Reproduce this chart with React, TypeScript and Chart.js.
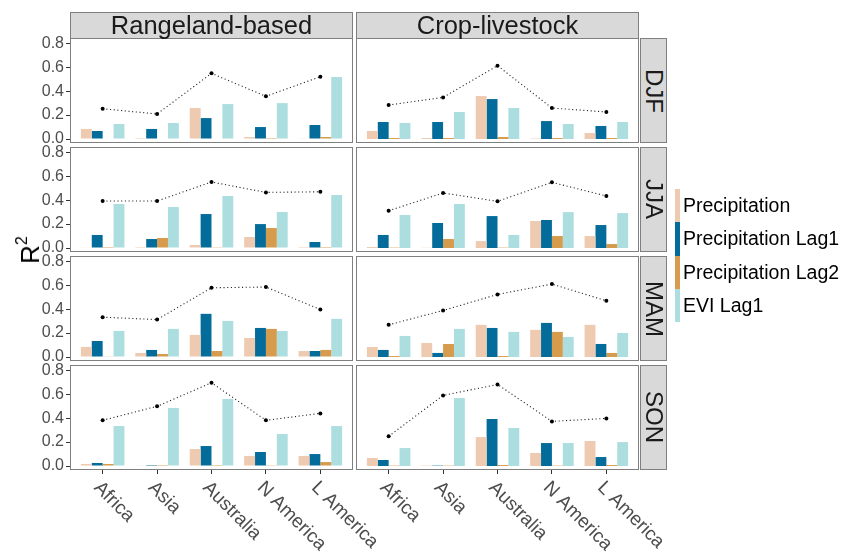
import React, { useEffect, useRef } from "react";
import { Chart, registerables } from "chart.js";

Chart.register(...registerables);

// ---------- data ----------
const regions = ["Africa", "Asia", "Australia", "N America", "L America"];
const systems = ["Rangeland-based", "Crop-livestock"];
const seasons = ["DJF", "JJA", "MAM", "SON"];
const seriesNames = ["Precipitation", "Precipitation Lag1", "Precipitation Lag2", "EVI Lag1"];
const seriesColors = ["#eecbb0", "#036c9a", "#d69b4c", "#acdddf"];
const yTicks = [0, 0.2, 0.4, 0.6, 0.8];

// Rangeland-based
const rlDJF_precip = [0.084, 0.008, 0.259, 0.017, 0.003];
const rlDJF_lag1 = [0.067, 0.084, 0.175, 0.1, 0.117];
const rlDJF_lag2 = [0.004, 0.004, 0.004, 0.008, 0.017];
const rlDJF_evi = [0.125, 0.134, 0.292, 0.3, 0.518];
const rlDJF_total = [0.253, 0.209, 0.549, 0.357, 0.521];

const rlJJA_precip = [0.003, 0.008, 0.025, 0.092, 0.008];
const rlJJA_lag1 = [0.109, 0.075, 0.284, 0.2, 0.05];
const rlJJA_lag2 = [0.008, 0.084, 0.002, 0.167, 0.008];
const rlJJA_evi = [0.368, 0.343, 0.435, 0.301, 0.443];
const rlJJA_total = [0.393, 0.393, 0.552, 0.465, 0.47];

const rlMAM_precip = [0.084, 0.034, 0.185, 0.159, 0.05];
const rlMAM_lag1 = [0.134, 0.059, 0.361, 0.243, 0.05];
const rlMAM_lag2 = [0.003, 0.025, 0.05, 0.235, 0.059];
const rlMAM_evi = [0.218, 0.235, 0.302, 0.218, 0.319];
const rlMAM_total = [0.333, 0.313, 0.579, 0.585, 0.397];

const rlSON_precip = [0.017, 0.003, 0.142, 0.084, 0.084];
const rlSON_lag1 = [0.025, 0.008, 0.167, 0.117, 0.1];
const rlSON_lag2 = [0.017, 0.008, 0.008, 0.002, 0.033];
const rlSON_evi = [0.334, 0.485, 0.56, 0.267, 0.334];
const rlSON_total = [0.382, 0.499, 0.696, 0.382, 0.44];

// Crop-livestock
const clDJF_precip = [0.067, 0.008, 0.359, 0.004, 0.05];
const clDJF_lag1 = [0.142, 0.142, 0.334, 0.15, 0.109];
const clDJF_lag2 = [0.008, 0.008, 0.017, 0.008, 0.008];
const clDJF_evi = [0.134, 0.226, 0.259, 0.125, 0.142];
const clDJF_total = [0.284, 0.348, 0.613, 0.259, 0.226];

const clJJA_precip = [0.008, 0.002, 0.058, 0.226, 0.1];
const clJJA_lag1 = [0.109, 0.209, 0.267, 0.234, 0.192];
const clJJA_lag2 = [0.003, 0.075, 0.003, 0.1, 0.033];
const clJJA_evi = [0.276, 0.368, 0.109, 0.3, 0.292];
const clJJA_total = [0.312, 0.46, 0.39, 0.549, 0.435];

const clMAM_precip = [0.084, 0.117, 0.269, 0.227, 0.269];
const clMAM_lag1 = [0.059, 0.034, 0.243, 0.285, 0.109];
const clMAM_lag2 = [0.008, 0.109, 0.008, 0.21, 0.034];
const clMAM_evi = [0.176, 0.235, 0.21, 0.168, 0.201];
const clMAM_total = [0.269, 0.389, 0.523, 0.61, 0.47];

const clSON_precip = [0.067, 0.003, 0.242, 0.109, 0.209];
const clSON_lag1 = [0.05, 0.003, 0.393, 0.192, 0.075];
const clSON_lag2 = [0.003, 0.003, 0.008, 0.003, 0.008];
const clSON_evi = [0.15, 0.568, 0.318, 0.192, 0.2];
const clSON_total = [0.248, 0.59, 0.682, 0.373, 0.398];

const panels = [
  { col: 0, row: 0, series: [rlDJF_precip, rlDJF_lag1, rlDJF_lag2, rlDJF_evi], total: rlDJF_total },
  { col: 1, row: 0, series: [clDJF_precip, clDJF_lag1, clDJF_lag2, clDJF_evi], total: clDJF_total },
  { col: 0, row: 1, series: [rlJJA_precip, rlJJA_lag1, rlJJA_lag2, rlJJA_evi], total: rlJJA_total },
  { col: 1, row: 1, series: [clJJA_precip, clJJA_lag1, clJJA_lag2, clJJA_evi], total: clJJA_total },
  { col: 0, row: 2, series: [rlMAM_precip, rlMAM_lag1, rlMAM_lag2, rlMAM_evi], total: rlMAM_total },
  { col: 1, row: 2, series: [clMAM_precip, clMAM_lag1, clMAM_lag2, clMAM_evi], total: clMAM_total },
  { col: 0, row: 3, series: [rlSON_precip, rlSON_lag1, rlSON_lag2, rlSON_evi], total: rlSON_total },
  { col: 1, row: 3, series: [clSON_precip, clSON_lag1, clSON_lag2, clSON_evi], total: clSON_total },
];

// ---------- layout ----------
const FONT = '"Liberation Sans", Arial, Helvetica, sans-serif';
const PANEL_W = 283;
const PANEL_H = 105;
const COL_X = [70, 356];
const ROW_Y = [38, 147, 256, 365];
const Y_AXIS_W = 41;
const TOP_PAD = 8;
const X_AXIS_H = 88;
const RIGHT_EXTRA = 60;
const Y_MIN = -0.0334;
const Y_MAX = 0.8445;
const BORDER = "#7f7f7f";
const STRIP_FILL = "#d9d9d9";

const borderPlugin = {
  id: "panelBorder",
  afterDraw(chart: any) {
    const { ctx, chartArea } = chart;
    ctx.save();
    ctx.strokeStyle = BORDER;
    ctx.lineWidth = 1;
    ctx.strokeRect(
      chartArea.left + 0.5,
      chartArea.top + 0.5,
      chartArea.right - chartArea.left - 1,
      chartArea.bottom - chartArea.top - 1
    );
    ctx.restore();
  },
};

const xLabelPlugin = {
  id: "xRotLabels",
  afterDraw(chart: any) {
    const { ctx, chartArea } = chart;
    const xs = chart.scales.x;
    ctx.save();
    ctx.font = `19px ${FONT}`;
    ctx.fillStyle = "#4d4d4d";
    ctx.textAlign = "left";
    ctx.textBaseline = "alphabetic";
    regions.forEach((lab, i) => {
      const px = xs.getPixelForValue(i);
      ctx.save();
      ctx.translate(px - 9.5, chartArea.bottom + 18.5);
      ctx.rotate(Math.PI / 4);
      ctx.fillText(lab, 0, 0);
      ctx.restore();
    });
    ctx.restore();
  },
};

function Panel({ spec }: { spec: any }) {
  const ref = useRef<HTMLCanvasElement>(null);
  const showY = spec.col === 0;
  const showX = spec.row === 3;
  const extraR = showX ? RIGHT_EXTRA : 0;
  const width = PANEL_W + (showY ? Y_AXIS_W : 0) + extraR;
  const height = TOP_PAD + PANEL_H + (showX ? X_AXIS_H : 0);
  const left = COL_X[spec.col] - (showY ? Y_AXIS_W : 0);
  const top = ROW_Y[spec.row] - TOP_PAD;

  useEffect(() => {
    const canvas = ref.current!;
    const datasets: any[] = [
      {
        type: "line",
        label: "R2",
        data: spec.total.map((v: number, i: number) => ({ x: i, y: v })),
        borderColor: "#222",
        borderWidth: 1.1,
        borderDash: [1.1, 2.6],
        pointRadius: 2,
        pointBackgroundColor: "#000",
        pointBorderWidth: 0,
        tension: 0,
        fill: false,
        order: 0,
      },
      ...seriesNames.map((name, k) => ({
        type: "bar",
        label: name,
        data: spec.series[k].map((v: number, i: number) => ({ x: i, y: v })),
        backgroundColor: seriesColors[k],
        borderWidth: 0,
        categoryPercentage: 0.8,
        barPercentage: 1,
        order: 1,
      })),
    ];
    const chart = new Chart(canvas, {
      type: "bar",
      data: { datasets },
      options: {
        animation: false,
        responsive: false,
        maintainAspectRatio: false,
        events: [],
        layout: { autoPadding: false, padding: { top: TOP_PAD, left: 0, right: extraR, bottom: 0 } },
        plugins: { legend: { display: false }, tooltip: { enabled: false }, title: { display: false } },
        scales: {
          x: {
            type: "linear",
            min: -0.6,
            max: 4.6,
            offset: false,
            display: showX,
            afterBuildTicks: (s: any) => {
              s.ticks = regions.map((_, i) => ({ value: i }));
            },
            afterFit: (s: any) => {
              s.height = showX ? X_AXIS_H : 0;
              s.paddingLeft = 0;
              s.paddingRight = 0;
            },
            ticks: { display: false },
            grid: { offset: false, drawOnChartArea: false, drawTicks: true, tickLength: 4, tickColor: "#333", tickWidth: 1 },
            border: { display: false },
          },
          y: {
            type: "linear",
            min: Y_MIN,
            max: Y_MAX,
            display: showY,
            afterBuildTicks: (s: any) => {
              s.ticks = yTicks.map((v) => ({ value: v }));
            },
            afterFit: (s: any) => {
              s.width = showY ? Y_AXIS_W : 0;
              s.paddingTop = 0;
              s.paddingBottom = 0;
            },
            ticks: {
              callback: (v: any) => Number(v).toFixed(1),
              color: "#4d4d4d",
              font: { size: 16, family: FONT },
              padding: 2,
            },
            grid: { drawOnChartArea: false, drawTicks: true, tickLength: 4, tickColor: "#333", tickWidth: 1 },
            border: { display: false },
          },
        },
      } as any,
      plugins: showX ? [borderPlugin, xLabelPlugin] : [borderPlugin],
    } as any);
    return () => chart.destroy();
  }, []);

  return (
    <canvas
      ref={ref}
      width={width}
      height={height}
      style={{ position: "absolute", left, top, width, height }}
    />
  );
}

export default function App() {
  return (
    <div
      style={{
        position: "fixed",
        left: 0,
        top: 0,
        width: 848,
        height: 558,
        background: "#fff",
        fontFamily: FONT,
        overflow: "hidden",
      }}
    >
      {panels.map((p, i) => (
        <Panel key={i} spec={p} />
      ))}

      {systems.map((s, c) => (
        <div
          key={s}
          style={{
            position: "absolute",
            left: COL_X[c],
            top: 12,
            width: PANEL_W,
            height: 27,
            boxSizing: "border-box",
            border: `1px solid ${BORDER}`,
            background: STRIP_FILL,
            display: "flex",
            alignItems: "center",
            justifyContent: "center",
            fontSize: 25.5,
            color: "#1a1a1a",
            lineHeight: 1,
          }}
        >
          {s}
        </div>
      ))}

      {seasons.map((s, r) => (
        <div
          key={s}
          style={{
            position: "absolute",
            left: 640,
            top: ROW_Y[r],
            width: 27,
            height: PANEL_H,
            boxSizing: "border-box",
            border: `1px solid ${BORDER}`,
            background: STRIP_FILL,
            display: "flex",
            alignItems: "center",
            justifyContent: "center",
            fontSize: 24,
            color: "#1a1a1a",
            lineHeight: 1,
          }}
        >
          <span style={{ writingMode: "vertical-rl" }}>{s}</span>
        </div>
      ))}

      <div
        style={{
          position: "absolute",
          left: 30,
          top: 250,
          transform: "translate(-50%, -50%) rotate(-90deg)",
          fontSize: 26,
          color: "#000",
          whiteSpace: "nowrap",
          lineHeight: 1,
        }}
      >
        R<sup style={{ fontSize: 16, verticalAlign: "top", position: "relative", top: -3 }}>2</sup>
      </div>

      {seriesNames.map((n, k) => (
        <div key={n}>
          <div
            style={{
              position: "absolute",
              left: 675,
              top: 189 + k * 33.3,
              width: 5,
              height: 33.4,
              background: seriesColors[k],
            }}
          />
          <div
            style={{
              position: "absolute",
              left: 683,
              top: 189 + k * 33.3,
              height: 33.3,
              display: "flex",
              alignItems: "center",
              fontSize: 19.5,
              color: "#000",
              whiteSpace: "nowrap",
            }}
          >
            {n}
          </div>
        </div>
      ))}
    </div>
  );
}
